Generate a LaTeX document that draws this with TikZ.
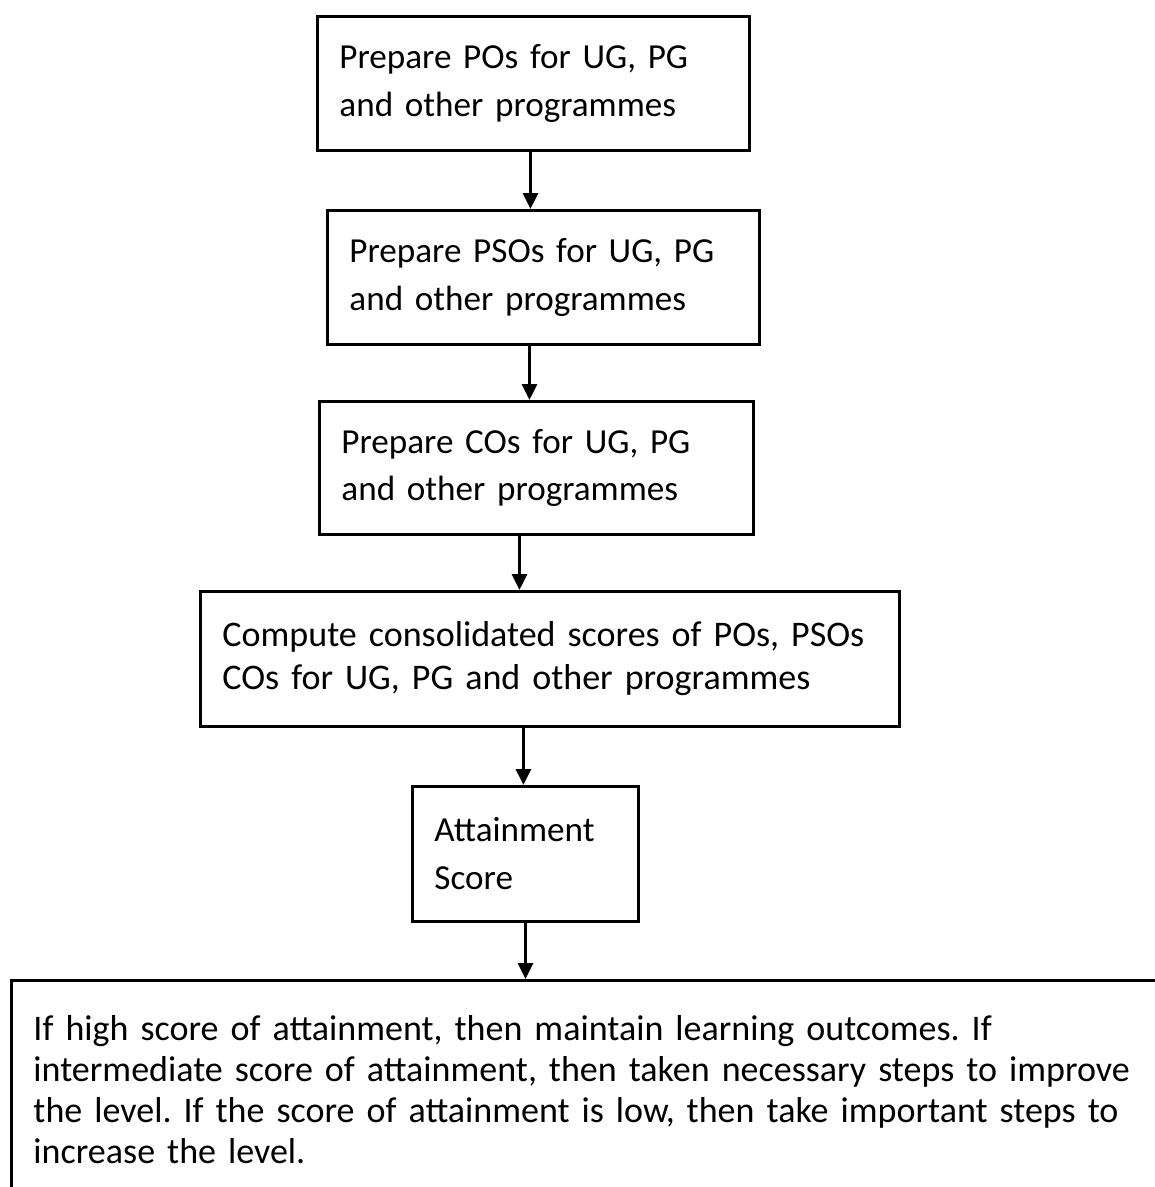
\documentclass[tikz,border=0pt]{standalone}
\usepackage{fontspec}
\setmainfont{Carlito}
\usetikzlibrary{arrows.meta, calc}
\frenchspacing

\begin{document}
\begin{tikzpicture}[x=0.02cm, y=-0.02cm, >={Triangle[length=0.32cm, width=0.3cm]}, line width=1.7pt,
  box/.style={draw, rectangle, anchor=north west, inner xsep=0.44cm, inner ysep=0pt, align=left,
    font=\fontsize{20}{27.3}\selectfont}]
  \useasboundingbox (0,0) rectangle (1155,1187);
  % cajas del diagrama
  \node[box, text width=7.76cm, minimum height=2.68cm] (po) at (316,15) {Prepare POs for UG, PG\\and other programmes};
  \node[box, text width=7.76cm, minimum height=2.68cm] (pso) at (326,209) {Prepare PSOs for UG, PG\\and other programmes};
  \node[box, text width=7.8cm, minimum height=2.66cm] (co) at (318,400) {Prepare COs for UG, PG\\and other programmes};
  \node[box, text width=13.1cm, minimum height=2.7cm, font=\fontsize{20.5}{24.5}\selectfont] (score) at (199,590)
    {Compute consolidated scores of POs, PSOs\\COs for UG, PG and other programmes};
  \node[box, text width=3.64cm, minimum height=2.7cm] (att) at (411,785) {Attainment\\Score};
  \node[box, text width=23.5cm, minimum height=4.36cm, font=\fontsize{20.5}{23.3}\selectfont] (act) at (10,979)
    {If high score of attainment, then maintain learning outcomes. If\\
     intermediate score of attainment, then taken necessary steps to improve\\
     the level. If the score of attainment is low, then take important steps to\\
     increase the level.};
  % flechas
  \draw[->] ([xshift=-0.06cm]po.south) -- ([xshift=-0.06cm]po.south |- pso.north);
  \draw[->] ([xshift=-0.28cm]pso.south) -- ([xshift=-0.28cm]pso.south |- co.north);
  \draw[->] ([xshift=-0.34cm]co.south) -- ([xshift=-0.34cm]co.south |- score.north);
  \draw[->] ([xshift=-0.53cm]score.south) -- ([xshift=-0.53cm]score.south |- att.north);
  \draw[->] (att.south) -- (att.south |- act.north);
\end{tikzpicture}
\end{document}
